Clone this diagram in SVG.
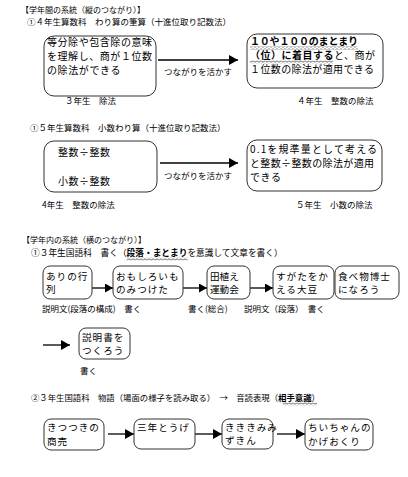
<svg xmlns="http://www.w3.org/2000/svg" width="408" height="477" viewBox="0 0 408 477">
<style>
text{font-family:"Noto Sans CJK JP","Noto Sans CJK SC",sans-serif;fill:#000}
.t{font-size:8px}
.s{font-size:8.5px}
.h{font-size:8.7px}
.h2{font-size:8.4px}
.b{font-size:10px}
.r{font-size:9.6px;letter-spacing:1px}
.bold{font-weight:bold}
.box{fill:#fff;stroke:#333;stroke-width:1}
.con{stroke:#000;stroke-width:1.3;fill:none}
</style>
<defs>
<marker id="ah" markerUnits="userSpaceOnUse" markerWidth="10" markerHeight="10" refX="9" refY="5" orient="auto">
<path d="M0 0 L9 5 L0 10 Z" fill="#000"/>
</marker>
<marker id="ahs" markerUnits="userSpaceOnUse" markerWidth="9" markerHeight="9" refX="8" refY="4.5" orient="auto">
<path d="M0 0 L8 4.5 L0 9 Z" fill="#000"/>
</marker>
<pattern id="wave" width="4" height="3" patternUnits="userSpaceOnUse">
<path d="M0 1.5 Q1 0 2 1.5 T4 1.5" fill="none" stroke="#000" stroke-width="0.6"/>
</pattern>
</defs>

<g id="headings">
<text class="t" x="21" y="13">【学年間の系統（縦のつながり）】</text>
<text class="s" x="27" y="25">①４年生算数科　わり算の筆算（十進位取り記数法）</text>
<text class="s" x="30" y="131">①５年生算数科　小数わり算（十進位取り記数法）</text>
<text class="t" x="22" y="243">【学年内の系統（横のつながり）】</text>
<text class="h" x="31" y="256">①３年生国語科　書く（<tspan class="bold">段落・まとまり</tspan>を意識して文章を書く）</text>
<rect x="126.7" y="257.5" width="61" height="3" fill="url(#wave)"/>
<text class="h2" x="31" y="401">②３年生国語科　物語（場面の様子を読み取る）　→　音読表現（<tspan class="bold">相手意識</tspan>）</text>
<rect x="283" y="402.5" width="34" height="3" fill="url(#wave)"/>
</g>

<g id="labels">
<text class="s" x="65" y="104">３年生　除法</text>
<text class="s" x="297" y="104">４年生　整数の除法</text>
<text class="s" x="164" y="75">つながりを活かす</text>
<text class="s" x="164" y="179">つながりを活かす</text>
<text class="s" x="42" y="208">4年生　整数の除法</text>
<text class="s" x="296" y="208">５年生　小数の除法</text>
<text class="s" x="42" y="312">説明文(段落の構成)　書く</text>
<text class="s" x="188" y="312">書く(総合)</text>
<text class="s" x="244" y="312">説明文（段落）　書く</text>
<text class="s" x="80" y="374">書く</text>
</g>

<g id="connectors">
<line class="con" x1="158" y1="60" x2="238" y2="60" marker-end="url(#ah)"/>
<line class="con" x1="160" y1="163" x2="238" y2="163" marker-end="url(#ah)"/>
<line class="con" x1="92" y1="288" x2="113" y2="288" marker-end="url(#ahs)"/>
<line class="con" x1="183" y1="288" x2="207" y2="288" marker-end="url(#ahs)"/>
<line class="con" x1="250" y1="288" x2="273" y2="288" marker-end="url(#ahs)"/>
<line class="con" x1="43" y1="345" x2="70" y2="345" marker-end="url(#ah)"/>
<line class="con" x1="108" y1="434" x2="134" y2="434" marker-end="url(#ah)"/>
<line class="con" x1="195" y1="434" x2="222" y2="434" marker-end="url(#ah)"/>
<line class="con" x1="277" y1="434" x2="305" y2="434" marker-end="url(#ah)"/>
</g>

<g id="n-div3">
<rect class="box" x="44" y="36" width="112" height="60" rx="10"/>
<text class="b" x="47" y="46" textLength="105">等分除や包含除の意味</text>
<text class="b" x="47" y="60" textLength="105">を理解し、商が１位数</text>
<text class="b" x="47" y="74" textLength="73.5">の除法ができる</text>
</g>

<g id="n-div4">
<rect class="box" x="247" y="34" width="136" height="54" rx="10"/>
<text class="b bold" x="250" y="45" textLength="108">１０や１００のまとまり</text>
<rect x="250" y="46.5" width="108" height="3" fill="url(#wave)"/>
<text class="b" x="250" y="59" textLength="125"><tspan class="bold">（位）に着目する</tspan>と、商が</text>
<rect x="250" y="60.5" width="83" height="3" fill="url(#wave)"/>
<text class="b" x="250" y="73" textLength="124">１位数の除法が適用できる</text>
</g>

<g id="n-int">
<rect class="box" x="44" y="141" width="113" height="51" rx="10"/>
<text class="b" x="58" y="156" textLength="52">整数÷整数</text>
<text class="b" x="58" y="185" textLength="52">小数÷整数</text>
</g>

<g id="n-dec">
<rect class="box" x="247" y="140" width="135" height="51" rx="10"/>
<text class="b" x="250" y="153" textLength="127">0.1を規準量として考える</text>
<text class="b" x="250" y="167" textLength="124">と整数÷整数の除法が適用</text>
<text class="b" x="250" y="181" textLength="31">できる</text>
</g>

<g id="n-ari">
<rect class="box" x="43" y="266" width="49" height="33" rx="7"/>
<text class="r" x="46" y="280">ありの行</text>
<text class="r" x="46" y="293">列</text>
</g>
<g id="n-omoshiroi">
<rect class="box" x="113" y="266" width="70" height="33" rx="7"/>
<text class="r" x="116" y="280">おもしろいも</text>
<text class="r" x="116" y="293">のみつけた</text>
</g>
<g id="n-taue">
<rect class="box" x="207" y="266" width="43" height="33" rx="7"/>
<text class="r" x="210" y="280" style="letter-spacing:0">田植え</text>
<text class="r" x="210" y="293" style="letter-spacing:0">運動会</text>
</g>
<g id="n-daizu">
<rect class="box" x="273" y="266" width="61" height="33" rx="7"/>
<text class="r" x="276" y="280">すがたをか</text>
<text class="r" x="276" y="293">える大豆</text>
</g>
<g id="n-hakase">
<rect class="box" x="335" y="266" width="64" height="33" rx="7"/>
<text class="r" x="338" y="280">食べ物博士</text>
<text class="r" x="338" y="293">になろう</text>
</g>
<g id="n-setsumeisho">
<rect class="box" x="79" y="328" width="51" height="31" rx="7"/>
<text class="r" x="82" y="341">説明書を</text>
<text class="r" x="82" y="354">つくろう</text>
</g>

<g id="n-kitsutsuki">
<rect class="box" x="44" y="419" width="60" height="31" rx="7"/>
<text class="r" x="47" y="431">きつつきの</text>
<text class="r" x="47" y="445">商売</text>
</g>
<g id="n-touge">
<rect class="box" x="134" y="419" width="61" height="30" rx="7"/>
<text class="r" x="137" y="431">三年とうげ</text>
</g>
<g id="n-kikimimi">
<rect class="box" x="222" y="419" width="51" height="30" rx="7"/>
<text class="r" x="225" y="431">きききみみ</text>
<text class="r" x="225" y="444">ずきん</text>
</g>
<g id="n-chiichan">
<rect class="box" x="305" y="419" width="68" height="31" rx="7"/>
<text class="r" x="308" y="431">ちいちゃんの</text>
<text class="r" x="308" y="445">かげおくり</text>
</g>
</svg>
